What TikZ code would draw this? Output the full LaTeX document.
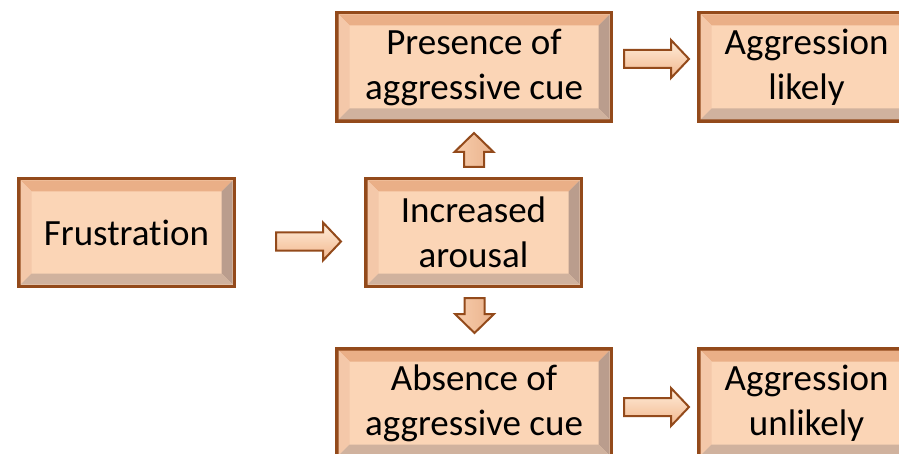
\documentclass[tikz,border=0pt]{standalone}
\usepackage{fontspec}
\setmainfont{Carlito}[Ligatures=NoCommon]
\usetikzlibrary{calc}
\definecolor{frameBrown}{HTML}{934A1B}
\definecolor{boxFill}{HTML}{FBD5B6}
\definecolor{bevTop}{HTML}{EAAF87}
\definecolor{bevLeft}{HTML}{F4C8A9}
\definecolor{bevRight}{HTML}{BA9D8D}
\definecolor{bevBottom}{HTML}{D0B29E}
\definecolor{arrLight}{HTML}{FFEEDB}
\definecolor{arrDark}{HTML}{F2B68C}
\tikzset{
  flowbox/.style={draw=frameBrown, line width=3.5pt, fill=boxFill, inner sep=0pt, outer sep=0pt,
    align=center, text=black, font=\fontsize{37}{45}\selectfont},
  arrowline/.style={draw=frameBrown, line width=2pt, line join=miter},
  harrowshade/.style={top color=arrLight, bottom color=arrDark},
  varrowshade/.style={left color=arrDark!60!arrLight, right color=arrDark!85!bevRight},
}
\newcommand\bevelframe[1]{%
  \fill[bevTop] ($(#1.north west)+(1.75,-1.75)$) -- ($(#1.north east)+(-1.75,-1.75)$) -- ($(#1.north east)+(-12.75,-12.75)$) -- ($(#1.north west)+(12.75,-12.75)$) -- cycle;
  \fill[bevLeft] ($(#1.north west)+(1.75,-1.75)$) -- ($(#1.north west)+(12.75,-12.75)$) -- ($(#1.south west)+(12.75,12.75)$) -- ($(#1.south west)+(1.75,1.75)$) -- cycle;
  \fill[bevRight] ($(#1.north east)+(-1.75,-1.75)$) -- ($(#1.north east)+(-12.75,-12.75)$) -- ($(#1.south east)+(-12.75,12.75)$) -- ($(#1.south east)+(-1.75,1.75)$) -- cycle;
  \fill[bevBottom] ($(#1.south west)+(1.75,1.75)$) -- ($(#1.south west)+(12.75,12.75)$) -- ($(#1.south east)+(-12.75,12.75)$) -- ($(#1.south east)+(-1.75,1.75)$) -- cycle;
}
% horizontal block arrow: x start, x tip, y centre
\newcommand\harrow[3]{%
  \path[arrowline, harrowshade] (#1,#3-9) -- (#2-18,#3-9) -- (#2-18,#3-19) -- (#2,#3) -- (#2-18,#3+19) -- (#2-18,#3+9) -- (#1,#3+9) -- cycle;}
% vertical block arrow: x centre, y base, y head base, y tip
\newcommand\varrow[4]{%
  \path[arrowline, varrowshade] (#1-10,#2) -- (#1-10,#3) -- (#1-19.5,#3) -- (#1,#4) -- (#1+19.5,#3) -- (#1+10,#3) -- (#1+10,#2) -- cycle;}
\begin{document}
\begin{tikzpicture}[x=1pt,y=1pt]
\clip (0,0) rectangle (899,453);
\fill[white] (0,0) rectangle (899,453);

\node[flowbox, minimum width=215.5pt, minimum height=107.5pt] (frus) at (126.5,220.5) {Frustration};
\node[flowbox, minimum width=215.5pt, minimum height=107.5pt] (inc) at (473.5,220.5) {Increased\\arousal};
\node[flowbox, minimum width=274.5pt, minimum height=108.5pt] (pres) at (474,386) {Presence of\\aggressive cue};
\node[flowbox, minimum width=274.5pt, minimum height=108.5pt] (abs) at (474,50) {Absence of\\aggressive cue};
\node[flowbox, minimum width=215.5pt, minimum height=108.5pt] (likely) at (806.5,386) {Aggression\\likely};
\node[flowbox, minimum width=215.5pt, minimum height=108.5pt] (unlikely) at (806.5,50) {Aggression\\unlikely};

\bevelframe{frus}
\bevelframe{inc}
\bevelframe{pres}
\bevelframe{abs}
\bevelframe{likely}
\bevelframe{unlikely}

\harrow{276}{341}{211.5}
\harrow{624}{689}{394}
\harrow{624}{689}{46}
\varrow{474}{286}{301}{320}
\varrow{474.5}{155}{139}{120}
\end{tikzpicture}
\end{document}
